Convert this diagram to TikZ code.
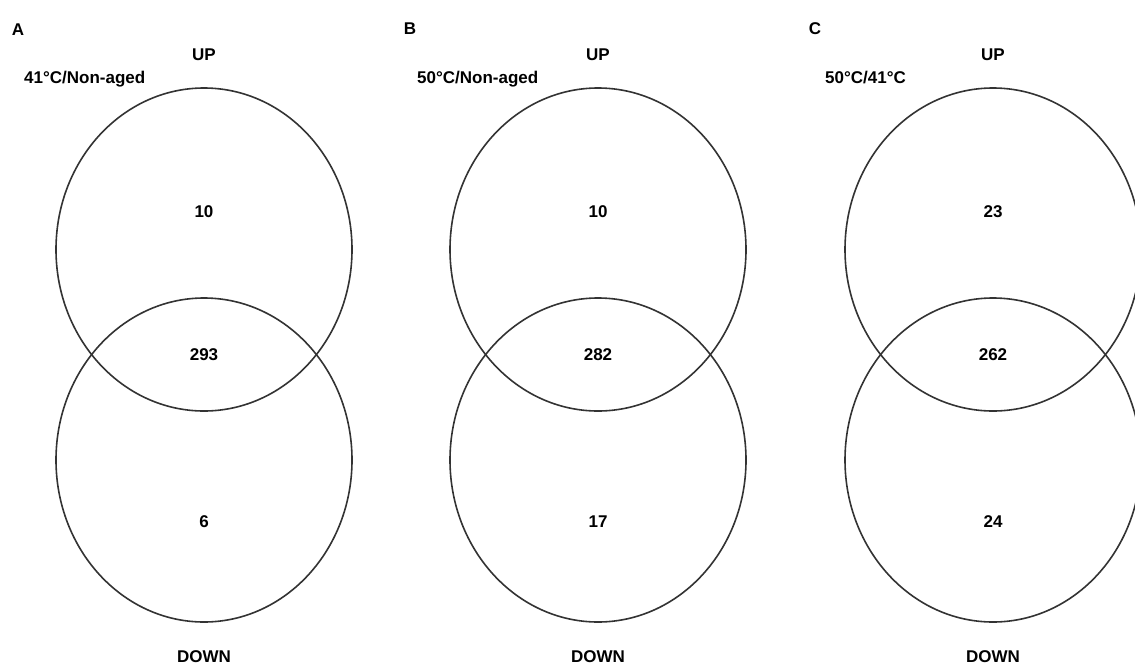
\documentclass[tikz,border=0pt]{standalone}
\usepackage{fontspec}
\setmainfont{Liberation Sans}
\usepackage{tikz}

\begin{document}
\begin{tikzpicture}[
  x=1pt, y=-1pt,
  lbl/.style = {font=\fontsize{17}{20}\selectfont\bfseries, anchor=base, inner sep=0pt},
  cond/.style = {lbl, anchor=base west},
  set/.style = {draw=black!80, line width=1.6pt}
]
  \useasboundingbox (0,0) rectangle (1135,664);

  % Panel A
  \node[lbl] (panelA) at (18,35) {A};
  \node[lbl] (upA) at (204,60) {UP};
  \node[cond] (condA) at (24,83) {41°C/Non-aged};
  \draw[set] (204,249.5) ellipse [x radius=148, y radius=161.5];
  \draw[set] (204,460) ellipse [x radius=148, y radius=162];
  \node[lbl] (onlyupA) at (204,217) {10};
  \node[lbl] (bothA) at (204,360) {293};
  \node[lbl] (onlydownA) at (204,527) {6};
  \node[lbl] (downA) at (204,662) {DOWN};

  % Panel B
  \node[lbl] (panelB) at (410,34) {B};
  \node[lbl] (upB) at (598,60) {UP};
  \node[cond] (condB) at (417,83) {50°C/Non-aged};
  \draw[set] (598,249.5) ellipse [x radius=148, y radius=161.5];
  \draw[set] (598,460) ellipse [x radius=148, y radius=162];
  \node[lbl] (onlyupB) at (598,217) {10};
  \node[lbl] (bothB) at (598,360) {282};
  \node[lbl] (onlydownB) at (598,527) {17};
  \node[lbl] (downB) at (598,662) {DOWN};

  % Panel C
  \node[lbl] (panelC) at (815,34) {C};
  \node[lbl] (upC) at (993,60) {UP};
  \node[cond] (condC) at (825,83) {50°C/41°C};
  \draw[set] (993,249.5) ellipse [x radius=148, y radius=161.5];
  \draw[set] (993,460) ellipse [x radius=148, y radius=162];
  \node[lbl] (onlyupC) at (993,217) {23};
  \node[lbl] (bothC) at (993,360) {262};
  \node[lbl] (onlydownC) at (993,527) {24};
  \node[lbl] (downC) at (993,662) {DOWN};

\end{tikzpicture}
\end{document}
